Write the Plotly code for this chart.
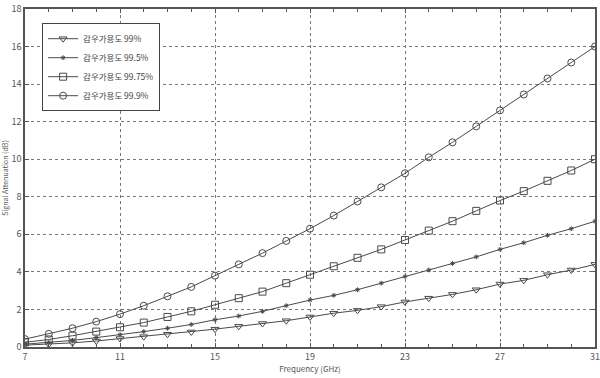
import plotly.graph_objects as go

freq = list(range(7, 32))
names = ["감우가용도 99%", "감우가용도 99.5%", "감우가용도 99.75%", "감우가용도 99.9%"]
att_99 = [0.10, 0.15, 0.22, 0.32, 0.45, 0.55, 0.68, 0.80, 0.95, 1.10, 1.25, 1.40, 1.60,
          1.80, 1.95, 2.15, 2.40, 2.60, 2.80, 3.05, 3.35, 3.55, 3.85, 4.10, 4.40]
att_995 = [0.15, 0.25, 0.35, 0.50, 0.65, 0.82, 1.00, 1.20, 1.45, 1.65, 1.90, 2.20, 2.50,
           2.75, 3.05, 3.40, 3.75, 4.10, 4.45, 4.80, 5.20, 5.55, 5.95, 6.30, 6.70]
att_9975 = [0.25, 0.40, 0.60, 0.82, 1.05, 1.30, 1.60, 1.90, 2.25, 2.60, 2.95, 3.40, 3.85,
            4.30, 4.75, 5.20, 5.70, 6.20, 6.70, 7.25, 7.80, 8.30, 8.85, 9.40, 10.00]
att_999 = [0.42, 0.70, 1.00, 1.35, 1.75, 2.20, 2.70, 3.20, 3.80, 4.40, 5.00, 5.65, 6.30,
           7.00, 7.75, 8.50, 9.25, 10.10, 10.90, 11.75, 12.60, 13.45, 14.30, 15.15, 16.00]
x_ticks = [7, 11, 15, 19, 23, 27, 31]
y_ticks = [0, 2, 4, 6, 8, 10, 12, 14, 16, 18]

series = [att_99, att_995, att_9975, att_999]
symbols = ["triangle-down-open", "asterisk-open", "square-open", "circle-open"]
sizes = [7, 4, 7, 7]
lc = "#4a4a4a"
font = "Noto Sans CJK KR, Liberation Sans, Arial"

fig = go.Figure()
for nm, ys, sym, sz in zip(names, series, symbols, sizes):
    fig.add_trace(go.Scatter(
        x=freq, y=ys, name=nm, mode="lines+markers",
        line=dict(color=lc, width=1),
        marker=dict(symbol=sym, size=sz, color=lc, line=dict(color=lc, width=1)),
    ))

axis_common = dict(
    showline=True, linecolor="#555", linewidth=1.5, mirror="ticks",
    ticks="inside", ticklen=4, tickcolor="#555",
    showgrid=True, gridcolor="#777", griddash="dot", gridwidth=1,
    zeroline=False, tickfont=dict(size=9, color="#555", family=font),
    automargin=False,
)
fig.update_xaxes(range=[7, 31], tickvals=x_ticks,
                 minor=dict(dtick=1, tick0=7, ticks="inside", ticklen=3, tickcolor="#555", showgrid=False),
                 title=dict(text="Frequency (GHz)", font=dict(size=8, color="#555", family=font), standoff=4),
                 **axis_common)
fig.update_yaxes(range=[0, 18], tickvals=y_ticks,
                 title=dict(text="Signal Attenuation (dB)", font=dict(size=7, color="#555", family=font), standoff=2),
                 **axis_common)

fig.update_layout(
    width=600, height=378, template="none",
    paper_bgcolor="white", plot_bgcolor="white",
    margin=dict(l=25, r=5, t=9, b=31),
    font=dict(family=font, color="#444"),
    legend=dict(x=0.03, y=0.958, xanchor="left", yanchor="top",
                bgcolor="white", bordercolor="#444", borderwidth=1,
                font=dict(size=8.5, color="#444", family=font),
                tracegroupgap=0, itemwidth=30),
    showlegend=True,
)
fig.write_html("out.html")
